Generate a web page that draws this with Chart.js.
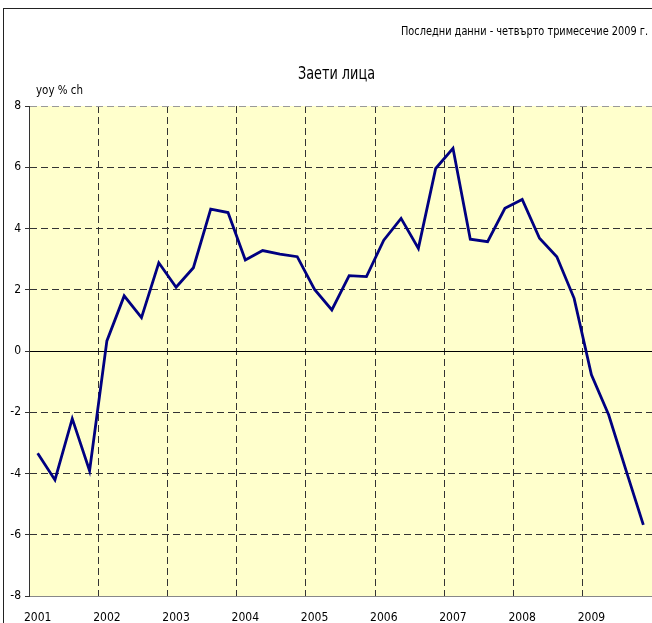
<!DOCTYPE html>
<html>
<head>
<meta charset="utf-8">
<script src="https://cdn.jsdelivr.net/npm/chart.js@4/dist/chart.umd.min.js"></script>
<style>
  html, body { margin: 0; padding: 0; background: #fff; overflow: hidden; }
  #wrap { position: relative; width: 652px; height: 623px; }
  #frame { position: absolute; left: 3px; top: 8px; width: 700px; height: 700px; border: 1px solid #222; box-sizing: border-box; pointer-events: none; }
  canvas { position: absolute; left: 0; top: 0; }
</style>
</head>
<body>
<div id="wrap">
  <div id="frame"></div>
  <canvas id="c" width="652" height="623"></canvas>
</div>
<script>
// ---- data ----
const years = ['2001', '2002', '2003', '2004', '2005', '2006', '2007', '2008', '2009'];
const quarters = ['Q1', 'Q2', 'Q3', 'Q4'];
const categories = years.flatMap(y => quarters.map(q => y + ' ' + q));
const employedYoY = [
  -3.34, -4.21, -2.21, -3.91,
   0.33,  1.80,  1.09,  2.88,
   2.08,  2.72,  4.63,  4.52,
   2.97,  3.28,  3.16,  3.08,
   2.01,  1.34,  2.46,  2.43,
   3.62,  4.33,  3.35,  5.96,
   6.62,  3.65,  3.57,  4.66,
   4.95,  3.68,  3.08,  1.72,
  -0.78, -2.09, -3.90, -5.68
];
const yTicks = [-8, -6, -4, -2, 0, 2, 4, 6, 8];
const titleText = 'Заети лица';
const noteText = 'Последни данни - четвърто тримесечие 2009 г.';
const unitText = 'yoy % ch';

// ---- font selection (narrow face if one is installed) ----
const probe = document.createElement('canvas').getContext('2d');
function tw(font) { probe.font = font; return probe.measureText('Последни данни 2009 yoy').width; }
let FAMILY = '"Liberation Sans", sans-serif';
let STRETCH = undefined;
if (tw('12px "Liberation Sans Narrow", monospace') !== tw('12px monospace')) {
  FAMILY = '"Liberation Sans Narrow", "Liberation Sans", sans-serif';
} else if (tw('condensed 12px "DejaVu Sans"') < tw('12px "DejaVu Sans"') - 2) {
  FAMILY = '"DejaVu Sans", sans-serif';
  STRETCH = 'condensed';
}
const tickFont = { family: FAMILY, size: 12, weight: STRETCH };

function fitText(ctx, text, x, y, size, align, targetW) {
  ctx.font = (STRETCH ? STRETCH + ' ' : '') + size + 'px ' + FAMILY;
  const w = ctx.measureText(text).width;
  const k = targetW / w;
  ctx.save();
  ctx.translate(x, y);
  ctx.scale(k, 1);
  ctx.textAlign = align;
  ctx.textBaseline = 'middle';
  ctx.fillText(text, 0, 0);
  ctx.restore();
}

const decor = {
  id: 'decor',
  beforeDraw(chart) {
    const { ctx, chartArea: a } = chart;
    ctx.save();
    ctx.fillStyle = '#FFFFCC';
    ctx.fillRect(a.left, a.top, a.right - a.left, a.bottom - a.top);
    ctx.restore();
  },
  afterDraw(chart) {
    const { ctx, chartArea: a } = chart;
    ctx.save();
    ctx.fillStyle = '#000';
    fitText(ctx, noteText, 648, 32, 13, 'right', 247);
    fitText(ctx, titleText, 336.5, 75, 17, 'center', 77);
    fitText(ctx, unitText, a.left + 7, 91, 12, 'left', 47);
    ctx.restore();
  }
};

new Chart(document.getElementById('c'), {
  type: 'line',
  data: {
    labels: categories,
    datasets: [{
      data: employedYoY,
      borderColor: '#000080',
      borderWidth: 2.8,
      pointRadius: 0,
      pointHoverRadius: 0,
      tension: 0,
      fill: false
    }]
  },
  options: {
    responsive: false,
    animation: false,
    devicePixelRatio: 1,
    events: [],
    layout: { autoPadding: false, padding: { top: 106, left: 0, right: 0, bottom: 0 } },
    plugins: { legend: { display: false }, tooltip: { enabled: false }, title: { display: false } },
    scales: {
      x: {
        type: 'category',
        offset: true,
        afterFit(s) { s.height = 27; s.paddingLeft = 0; s.paddingRight = 0; },
        grid: {
          offset: true,
          drawTicks: false,
          lineWidth: 1,
          color: (c) => (c.index > 0 && c.index < categories.length && c.index % 4 === 0) ? '#333' : 'rgba(0,0,0,0)'
        },
        border: { display: true, color: '#888', width: 1, dash: [7, 4] },
        ticks: {
          autoSkip: false,
          maxRotation: 0,
          padding: 15,
          color: '#000',
          font: tickFont,
          callback: (v, i) => (i % 4 === 0 ? years[i / 4] : '')
        }
      },
      y: {
        min: -8,
        max: 8,
        afterFit(s) { s.width = 29; },
        afterBuildTicks(s) { s.ticks = yTicks.map(v => ({ value: v })); },
        grid: {
          drawTicks: true,
          tickLength: 4,
          tickColor: '#333',
          lineWidth: 1,
          color: (c) => {
            const v = c.tick ? c.tick.value : null;
            if (v === 0) return '#000';
            if (v === 8) return '#999';
            if (v === -8) return 'rgba(0,0,0,0)';
            return '#333';
          }
        },
        border: {
          display: true, color: '#333', width: 1,
          dash: (c) => (c.tick && c.tick.value === 0) ? [] : [7, 4]
        },
        ticks: {
          padding: 4,
          color: '#000',
          font: tickFont,
          callback: (v) => String(v)
        }
      }
    }
  },
  plugins: [decor]
});
</script>
</body>
</html>
